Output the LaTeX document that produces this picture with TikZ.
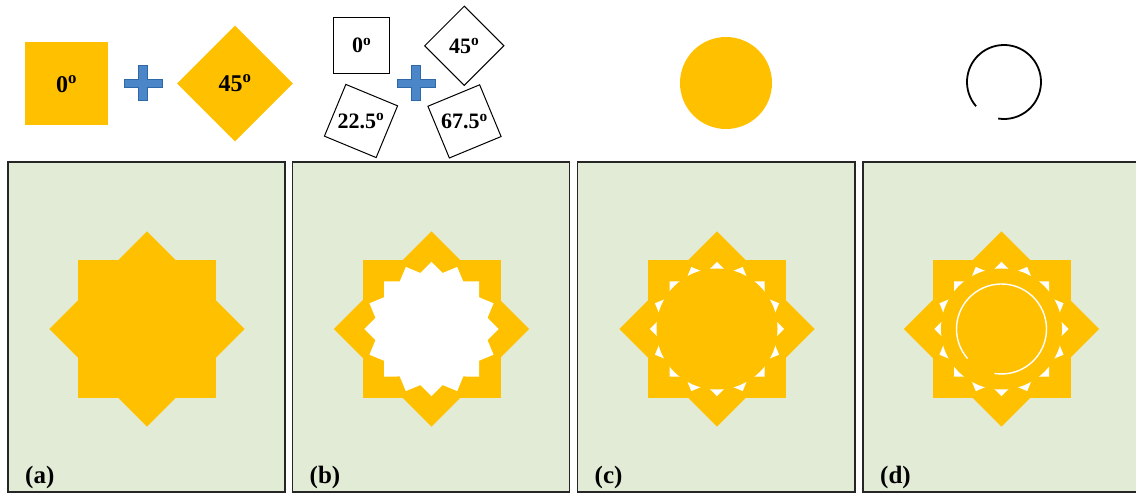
\documentclass[tikz,border=0pt]{standalone}
\usepackage{fontspec}
\setmainfont{Liberation Serif}
\definecolor{sun}{HTML}{FFC000}
\definecolor{panelbg}{RGB}{226,235,214}
\definecolor{plusfill}{RGB}{74,134,200}
\definecolor{plusline}{RGB}{46,104,166}
\newcommand\dg{\textsuperscript{o}}
\begin{document}
\begin{tikzpicture}[x=1pt,y=-1pt,
  panel/.style={fill=panelbg, draw=black!85, line width=1.5pt},
  lbl/.style={font=\fontsize{25}{25}\selectfont\bfseries, anchor=base west, inner sep=0pt},
  bigtxt/.style={font=\fontsize{24}{24}\selectfont\bfseries, inner sep=0pt},
  smalltxt/.style={font=\fontsize{22}{22}\selectfont\bfseries, inner sep=0pt},
  bigtile/.style={fill=sun, minimum size=83pt, inner sep=0pt, outer sep=0pt},
  tile/.style={draw=black, fill=white, line width=1pt, minimum size=56pt, inner sep=0pt},
  plus/.pic={\filldraw[fill=plusfill,draw=plusline,line width=1pt]
     (-19,-4.2) -- (-4.2,-4.2) -- (-4.2,-17.5) -- (4.2,-17.5) -- (4.2,-4.2) -- (19,-4.2) -- (19,4.2)
     -- (4.2,4.2) -- (4.2,17.5) -- (-4.2,17.5) -- (-4.2,4.2) -- (-19,4.2) -- cycle;},
  star8/.pic={\fill[sun] (-69,-69) -- (69,-69) -- (69,69) -- (-69,69) -- cycle;
     \fill[sun] (97.6,0) -- (0,97.6) -- (-97.6,0) -- (0,-97.6) -- cycle;},
  star16/.pic={\fill[white] (0:67.18) \foreach \j in {0,...,15}{
       -- ({\j*22.5+11.25}:57.13) -- ({\j*22.5+22.5}:67.18)} -- cycle;}
]
\clip (0,0) rectangle (1136,494);
\fill[white] (0,0) rectangle (1136,494);

% ---- top row ----
\node[bigtile] (sq0) at (66.5,84) {};
\node[bigtxt] (sq0t) at (sq0) {0\dg};
\pic at (143,83.5) {plus};
\node[bigtile, minimum size=82pt, rotate=45] (sq45) at (235,83.5) {};
\node[bigtxt] (sq45t) at (sq45) {45\dg};

\node[tile] (a0) at (361.7,45.3) {};
\node[smalltxt] (a0t) at (a0) {0\dg};
\node[tile, rotate=45] (a45) at (464.3,45.8) {};
\node[smalltxt] (a45t) at (a45) {45\dg};
\node[tile, rotate=-22.5] (a22) at (361,121) {};
\node[smalltxt] (a22t) at (a22) {22.5\dg};
\node[tile, rotate=22.5] (a67) at (464.5,121.4) {};
\node[smalltxt] (a67t) at (a67) {67.5\dg};
\pic at (416,83.3) {plus};

\fill[sun] (726,83) circle[radius=46];
\draw[black, line width=1.8pt] (1004,82) ++(139:37) arc[start angle=139, end angle=459, radius=37];

% ---- panels ----
\draw[panel] (8,162) rectangle (285,492);
\draw[panel] (292.5,162) rectangle (569.5,492);
\draw[panel] (577.5,162) rectangle (855,492);
\draw[panel] (863,162) rectangle (1141,492);

% (a)
\pic at (147,329) {star8};
% (b)
\pic at (431.5,329) {star8};
\pic at (431.5,329) {star16};
% (c)
\pic at (717,329) {star8};
\pic at (717,329) {star16};
\fill[sun] (717,329) circle[radius=60.5];
% (d)
\pic at (1001.5,329) {star8};
\pic at (1001.5,329) {star16};
\fill[sun] (1001.5,329) circle[radius=60.5];
\draw[white, line width=1.4pt] (1001.5,329) ++(139:45) arc[start angle=139, end angle=459, radius=45];

\node[lbl] (la) at (25,483) {(a)};
\node[lbl] (lb) at (309.5,483) {(b)};
\node[lbl] (lc) at (594.5,483) {(c)};
\node[lbl] (ld) at (880,483) {(d)};
\end{tikzpicture}
\end{document}
